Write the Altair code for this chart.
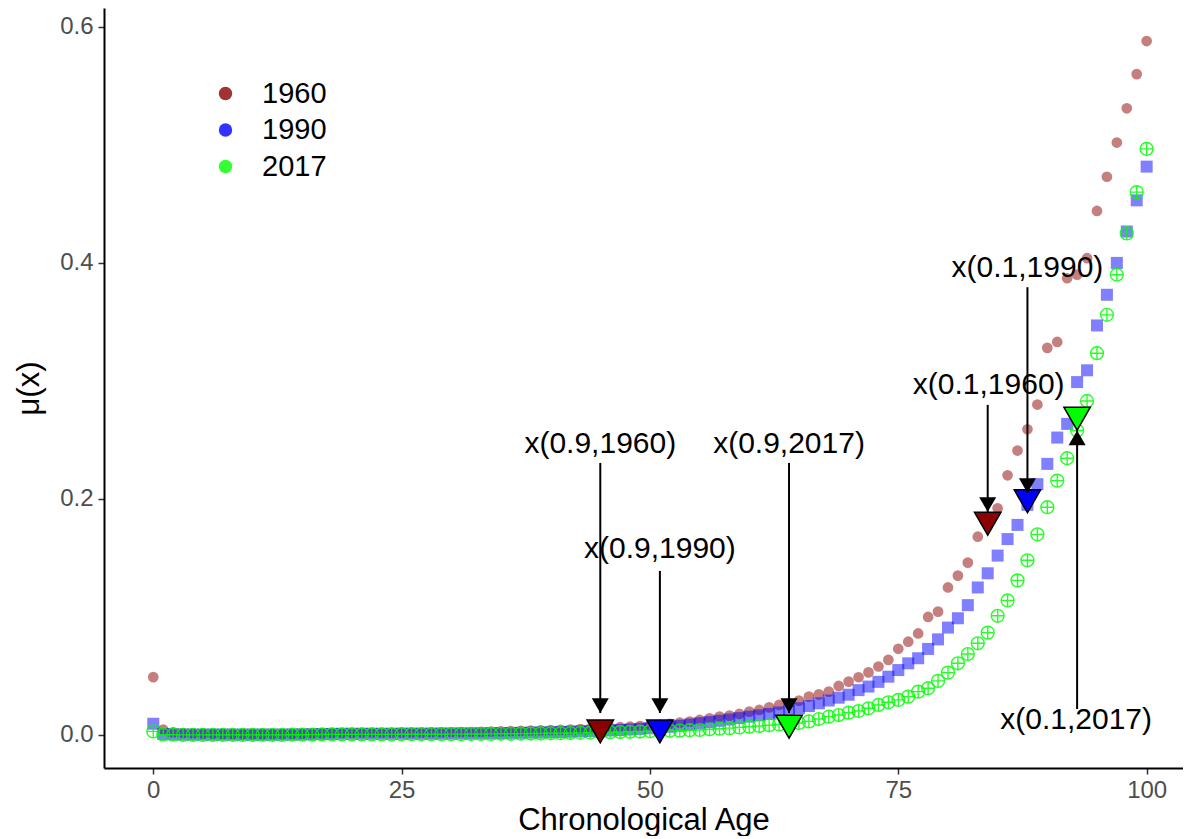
import altair as alt
import pandas as pd

# ---------------- data ----------------
ages = list(range(0, 101))

mu_1960 = [
    0.049, 0.0045, 0.0022, 0.0016, 0.0013, 0.0011, 0.0010, 0.0009, 0.0008, 0.0008,
    0.0007, 0.0007, 0.0008, 0.0008, 0.0009, 0.0011, 0.0012, 0.0014, 0.0015, 0.0016,
    0.0017, 0.0018, 0.0018, 0.0018, 0.0018, 0.0019, 0.0019, 0.0020, 0.0021, 0.0022,
    0.0023, 0.0024, 0.0025, 0.0026, 0.0028, 0.0030, 0.0032, 0.0034, 0.0036, 0.0038,
    0.0040, 0.0043, 0.0046, 0.0050, 0.0054, 0.0058, 0.0062, 0.0066, 0.0070, 0.0075,
    0.0080, 0.0086, 0.0093, 0.0104, 0.0113, 0.0127, 0.0141, 0.0155, 0.0164, 0.0178,
    0.0198, 0.0212, 0.0234, 0.0254, 0.0268, 0.0291, 0.0325, 0.0344, 0.0367, 0.0415,
    0.0452, 0.0489, 0.053, 0.058, 0.0636, 0.073, 0.079, 0.086, 0.100, 0.1045,
    0.125, 0.135, 0.146, 0.168, 0.180, 0.192, 0.220, 0.241, 0.259, 0.280,
    0.328, 0.333, 0.387, 0.390, 0.404, 0.444, 0.473, 0.502, 0.531, 0.560,
    0.588,
]

mu_1990 = [
    0.0095, 0.0008, 0.0005, 0.0004, 0.0003, 0.0003, 0.0003, 0.0003, 0.0003, 0.0003,
    0.0003, 0.0003, 0.0003, 0.0003, 0.0004, 0.0005, 0.0007, 0.0008, 0.0009, 0.0010,
    0.0010, 0.0010, 0.0010, 0.0010, 0.0010, 0.0011, 0.0011, 0.0011, 0.0011, 0.0012,
    0.0012, 0.0013, 0.0013, 0.0014, 0.0015, 0.0016, 0.0017, 0.0018, 0.0020, 0.0021,
    0.0023, 0.0025, 0.0027, 0.0030, 0.0032, 0.0035, 0.0038, 0.0042, 0.0046, 0.0051,
    0.0057, 0.0062, 0.0069, 0.0078, 0.0088, 0.0099, 0.0109, 0.0120, 0.0131, 0.0143,
    0.0155, 0.0166, 0.0178, 0.0191, 0.0207, 0.0226, 0.0245, 0.0268, 0.0292, 0.0316,
    0.0341, 0.0380, 0.0410, 0.0450, 0.0494, 0.0550, 0.0607, 0.0650, 0.0729, 0.0810,
    0.0910, 0.0989, 0.1100, 0.1250, 0.1370, 0.1520, 0.1660, 0.1780, 0.1950, 0.2125,
    0.2297, 0.2520, 0.2636, 0.2990, 0.3090, 0.3470, 0.3730, 0.4000, 0.4266, 0.4530,
    0.4816,
]

mu_2017 = [
    0.0030, 0.0003, 0.0002, 0.0001, 0.0001, 0.0001, 0.0001, 0.0001, 0.0001, 0.0001,
    0.0001, 0.0001, 0.0001, 0.0001, 0.0002, 0.0002, 0.0003, 0.0004, 0.0005, 0.0005,
    0.0005, 0.0005, 0.0005, 0.0005, 0.0005, 0.0006, 0.0006, 0.0006, 0.0006, 0.0006,
    0.0007, 0.0007, 0.0008, 0.0008, 0.0009, 0.0010, 0.0010, 0.0011, 0.0012, 0.0013,
    0.0014, 0.0015, 0.0016, 0.0018, 0.0019, 0.0021, 0.0023, 0.0025, 0.0027, 0.0029,
    0.0031, 0.0033, 0.0035, 0.0037, 0.0040, 0.0042, 0.0048, 0.0053, 0.0058, 0.0064,
    0.0070, 0.0076, 0.0082, 0.0089, 0.0094, 0.0101, 0.0115, 0.0135, 0.0155, 0.0169,
    0.0189, 0.0203, 0.0226, 0.0254, 0.0277, 0.0297, 0.0325, 0.0367, 0.0396, 0.0458,
    0.0528, 0.0607, 0.0686, 0.0777, 0.0867, 0.1010, 0.1140, 0.1310, 0.1480, 0.1700,
    0.1930, 0.2155, 0.2345, 0.2580, 0.2830, 0.3235, 0.3560, 0.3900, 0.4250, 0.4600,
    0.4966,
]

years = ["1960", "1990", "2017"]
year_colors = ["#8B0000", "#0000FF", "#00FF00"]

# marked quantile ages (triangles)
tri_age = [45, 51, 64, 84, 88, 93]
tri_mu = [0.003, 0.003, 0.007, 0.179, 0.198, 0.268]
tri_year = ["1960", "1990", "2017", "1960", "1990", "2017"]

# arrows: start value -> tip value
arrow_age = [45, 51, 64, 84, 88, 93]
arrow_from = [0.2305, 0.139, 0.2305, 0.2797, 0.3794, 0.022]
arrow_to = [0.0186, 0.0186, 0.0186, 0.189, 0.205, 0.258]
arrow_dir = ["down", "down", "down", "down", "down", "up"]

# annotation labels
label_text = ["x(0.9,1960)", "x(0.9,1990)", "x(0.9,2017)",
              "x(0.1,1960)", "x(0.1,1990)", "x(0.1,2017)"]
label_age = [45, 51, 64, 84.1, 88, 92.9]
label_mu = [0.2466, 0.1576, 0.2466, 0.2966, 0.3953, 0.0127]

# ---------------- tables ----------------
series = pd.DataFrame({
    "age": ages * 3,
    "mu": mu_1960 + mu_1990 + mu_2017,
    "year": [years[0]] * len(ages) + [years[1]] * len(ages) + [years[2]] * len(ages),
})
tri_df = pd.DataFrame({"age": tri_age, "mu": tri_mu, "year": tri_year})
arrow_df = pd.DataFrame({"age": arrow_age, "mu": arrow_from, "mu2": arrow_to, "dir": arrow_dir})
label_df = pd.DataFrame({"age": label_age, "mu": label_mu, "label": label_text})

FONT = "Liberation Sans"
Y_DOMAIN = [-0.028, 0.616]

x_enc = alt.X(
    "age:Q",
    scale=alt.Scale(domain=[-4.96, 103.66], nice=False, zero=False),
    axis=alt.Axis(values=[0, 25, 50, 75, 100], title="Chronological Age",
                  labelPadding=4, titleBaseline="alphabetic", titleY=61),
)
y_enc = alt.Y(
    "mu:Q",
    scale=alt.Scale(domain=Y_DOMAIN, nice=False, zero=False),
    axis=alt.Axis(values=[0, 0.2, 0.4, 0.6], format=".1f", title="μ(x)",
                  labelPadding=5, titleBaseline="alphabetic", titleX=-66, titleY=380),
)

color_scale = alt.Scale(domain=years, range=year_colors)
legend = alt.Legend(
    title=None, orient="none", legendX=107, legendY=71, padding=0,
    labelFontSize=29, labelFont=FONT, labelColor="black", labelOffset=22,
    symbolType="circle", symbolSize=180, symbolOpacity=0.8, symbolStrokeWidth=0,
    rowPadding=6.5,
)

base = alt.Chart(series)

p1960 = base.transform_filter(alt.datum.year == "1960").mark_point(
    shape="circle", filled=True, size=115, opacity=0.5
).encode(x=x_enc, y=y_enc, color=alt.Color("year:N", scale=color_scale, legend=legend))

p1990 = base.transform_filter(alt.datum.year == "1990").mark_point(
    shape="square", filled=True, size=144, opacity=0.5
).encode(x=x_enc, y=y_enc, color=alt.Color("year:N", scale=color_scale, legend=legend))

circle_plus = "M-1,0A1,1,0,1,1,1,0A1,1,0,1,1,-1,0M-1,0L1,0M0,-1L0,1"
p2017 = base.transform_filter(alt.datum.year == "2017").mark_point(
    shape=circle_plus, filled=False, size=165, strokeWidth=1.4, opacity=0.85
).encode(x=x_enc, y=y_enc, color=alt.Color("year:N", scale=color_scale, legend=legend))

tris = alt.Chart(tri_df).mark_point(
    shape="triangle-down", filled=True, size=700, stroke="black", strokeWidth=1.5, opacity=1
).encode(x=x_enc, y=y_enc,
         fill=alt.Fill("year:N", scale=alt.Scale(domain=years, range=year_colors), legend=None))

rules = alt.Chart(arrow_df).mark_rule(color="black", strokeWidth=2).encode(
    x=x_enc, y=y_enc, y2=alt.Y2("mu2:Q"))

heads_down = alt.Chart(arrow_df).transform_filter(alt.datum.dir == "down").mark_point(
    shape="triangle-down", filled=True, color="black", size=290, opacity=1, yOffset=-7.4
).encode(x=x_enc, y=alt.Y("mu2:Q", scale=alt.Scale(domain=Y_DOMAIN, nice=False, zero=False)))

heads_up = alt.Chart(arrow_df).transform_filter(alt.datum.dir == "up").mark_point(
    shape="triangle-up", filled=True, color="black", size=290, opacity=1, yOffset=7.4
).encode(x=x_enc, y=alt.Y("mu2:Q", scale=alt.Scale(domain=Y_DOMAIN, nice=False, zero=False)))

texts = alt.Chart(label_df).mark_text(
    font=FONT, fontSize=30, color="black", align="center", baseline="middle"
).encode(x=x_enc, y=y_enc, text="label:N")

chart = alt.layer(
    p1960, p1990, p2017, tris, rules, heads_down, heads_up, texts
).properties(
    width=1079, height=760,
    autosize=alt.AutoSizeParams(type="none"),
    padding={"left": 96, "top": 0, "right": 0, "bottom": 68},
).configure_view(
    strokeWidth=0
).configure_axis(
    grid=False, domainColor="black", domainWidth=2,
    tickColor="#333333", tickWidth=1.5, tickSize=6,
    labelColor="#4D4D4D", labelFontSize=24, labelFont=FONT,
    titleFont=FONT, titleFontSize=31, titleColor="black", titleFontWeight="normal",
)

chart.save("out.html", embed_options={"renderer": "svg", "actions": False})
